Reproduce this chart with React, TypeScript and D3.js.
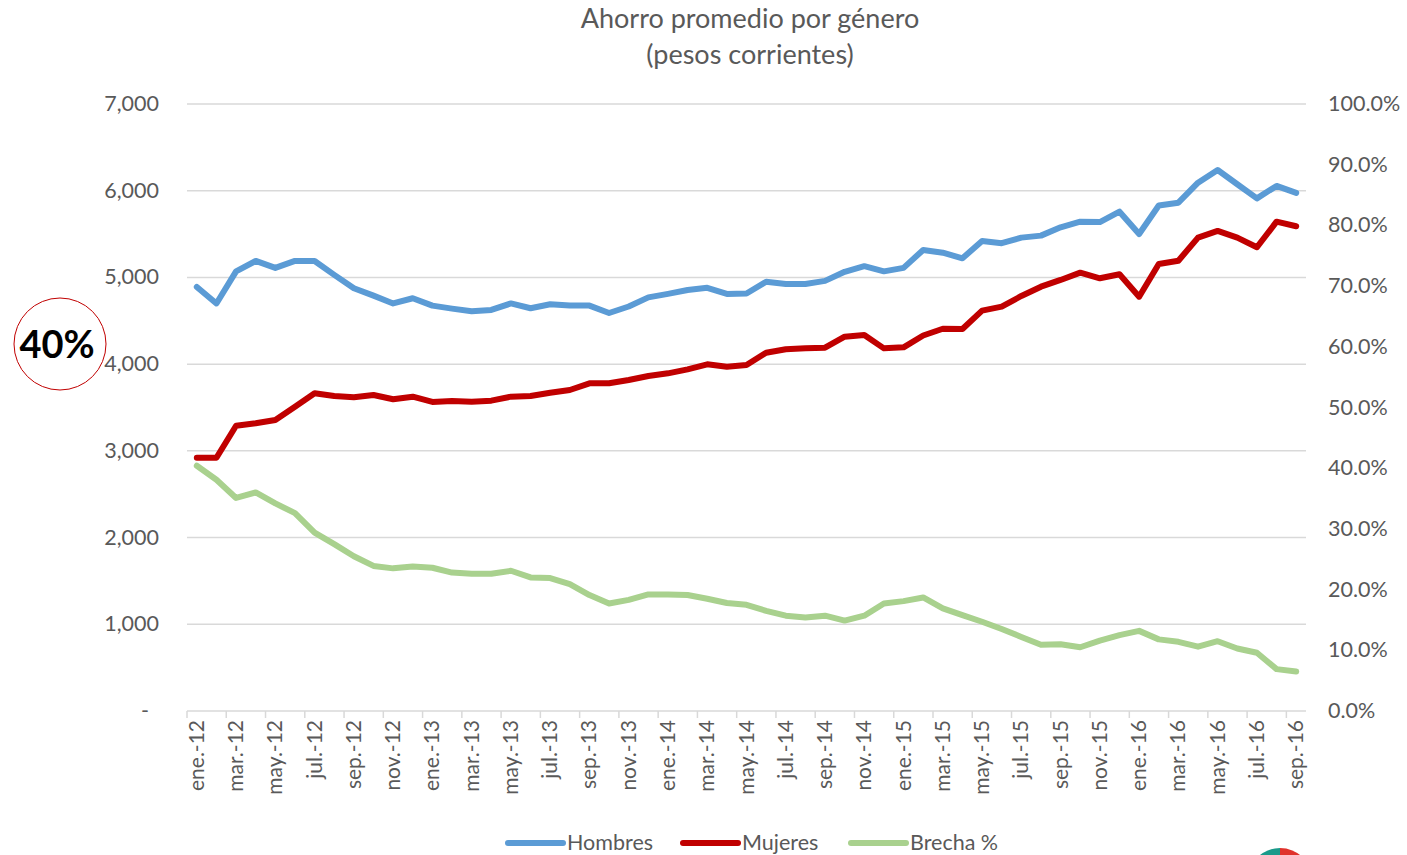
import { useEffect, useRef } from 'react';
import * as d3 from 'd3';

const monthNames = ['ene.', 'feb.', 'mar.', 'abr.', 'may.', 'jun.', 'jul.', 'ago.', 'sep.', 'oct.', 'nov.', 'dic.'];
const years = ['12', '13', '14', '15', '16'];
const months: string[] = [];
years.forEach(y => monthNames.forEach(m => months.push(`${m}-${y}`)));
const categories = months.slice(0, 57); // ene.-12 .. sep.-16

const hombres = [
  4890, 4700, 5070, 5190, 5110, 5190, 5190, 5030, 4875, 4790,
  4700, 4760, 4675, 4640, 4610, 4625, 4700, 4645, 4690, 4675,
  4675, 4590, 4665, 4770, 4810, 4855, 4880, 4810, 4815, 4950,
  4925, 4925, 4960, 5065, 5130, 5070, 5110, 5317, 5285, 5221,
  5420, 5395, 5459, 5482, 5578, 5643, 5638, 5758, 5500, 5830,
  5862, 6093, 6239, 6074, 5912, 6055, 5975,
];

const mujeres = [
  2921, 2921, 3290, 3318, 3356, 3509, 3664, 3633, 3618, 3644,
  3595, 3625, 3564, 3575, 3567, 3579, 3625, 3633, 3671, 3702,
  3779, 3779, 3817, 3863, 3894, 3940, 3998, 3971, 3990, 4132,
  4171, 4182, 4190, 4317, 4336, 4182, 4194, 4330, 4408, 4405,
  4617, 4663, 4786, 4893, 4971, 5055, 4990, 5036, 4778, 5155,
  5193, 5459, 5536, 5459, 5348, 5643, 5590,
];

const brecha = [
  40.4, 38.1, 35.1, 36.0, 34.2, 32.6, 29.4, 27.5, 25.5, 23.9,
  23.5, 23.8, 23.6, 22.8, 22.6, 22.6, 23.1, 22.0, 21.9, 20.9,
  19.1, 17.7, 18.3, 19.2, 19.2, 19.1, 18.5, 17.8, 17.5, 16.5,
  15.7, 15.4, 15.7, 14.9, 15.7, 17.7, 18.1, 18.7, 16.9, 15.8,
  14.7, 13.5, 12.2, 10.9, 11.0, 10.5, 11.6, 12.5, 13.2, 11.8,
  11.4, 10.6, 11.5, 10.3, 9.6, 6.9, 6.5,
];

const leftTicks = [0, 1000, 2000, 3000, 4000, 5000, 6000, 7000];
const rightTicks = [0, 10, 20, 30, 40, 50, 60, 70, 80, 90, 100];

const seriesNames = ['Hombres', 'Mujeres', 'Brecha %'];
const seriesColors = ['#5b9bd5', '#c00000', '#a9d18e'];

const FONT = 'Lato, "Open Sans", sans-serif';

export default function App() {
  const ref = useRef<SVGSVGElement | null>(null);

  useEffect(() => {
    const svg = d3.select(ref.current);
    svg.selectAll('*').remove();

    const W = 1407, H = 855;
    const left = 187, right = 1306, top = 104, bottom = 711;

    const x = d3.scaleBand().domain(categories).range([left, right]).padding(0);
    const yL = d3.scaleLinear().domain([0, 7000]).range([bottom, top]);
    const yR = d3.scaleLinear().domain([0, 100]).range([bottom, top]);

    svg.attr('width', W).attr('height', H);
    svg.append('rect').attr('width', W).attr('height', H).attr('fill', '#fff');

    // title
    const title = svg.append('text')
      .attr('x', 750).attr('text-anchor', 'middle')
      .attr('font-family', FONT).attr('font-size', 27).attr('fill', '#595959');
    title.append('tspan').attr('x', 750).attr('y', 28).text('Ahorro promedio por género');
    title.append('tspan').attr('x', 750).attr('y', 64).text('(pesos corrientes)');

    // gridlines
    svg.append('g')
      .selectAll('line')
      .data(leftTicks.slice(1))
      .join('line')
      .attr('x1', left).attr('x2', right)
      .attr('y1', d => yL(d)).attr('y2', d => yL(d))
      .attr('stroke', '#d9d9d9').attr('stroke-width', 1.5);

    // x axis line and ticks
    svg.append('line')
      .attr('x1', left).attr('x2', right).attr('y1', bottom).attr('y2', bottom)
      .attr('stroke', '#d9d9d9').attr('stroke-width', 1.5);
    const tickIdx = d3.range(0, categories.length, 2);
    svg.append('g')
      .selectAll('line')
      .data(tickIdx)
      .join('line')
      .attr('x1', i => x(categories[i])!).attr('x2', i => x(categories[i])!)
      .attr('y1', bottom).attr('y2', bottom + 7)
      .attr('stroke', '#d9d9d9').attr('stroke-width', 1.5);

    // x labels
    svg.append('g')
      .selectAll('text')
      .data(tickIdx)
      .join('text')
      .attr('transform', i => `translate(${x(categories[i])! + x.bandwidth() / 2 + 7},${bottom + 9}) rotate(-90)`)
      .attr('text-anchor', 'end')
      .attr('font-family', FONT).attr('font-size', 21).attr('fill', '#595959')
      .text(i => categories[i]);

    // left labels
    svg.append('g')
      .selectAll('text')
      .data(leftTicks)
      .join('text')
      .attr('x', d => (d === 0 ? 149 : 159))
      .attr('y', d => yL(d) + 7)
      .attr('text-anchor', 'end')
      .attr('font-family', FONT).attr('font-size', 21.5).attr('fill', '#595959')
      .text(d => (d === 0 ? '-' : d3.format(',')(d)));

    // right labels
    svg.append('g')
      .selectAll('text')
      .data(rightTicks)
      .join('text')
      .attr('x', 1328)
      .attr('y', d => yR(d) + 7)
      .attr('font-family', FONT).attr('font-size', 21.5).attr('fill', '#595959')
      .text(d => d.toFixed(1) + '%');

    const cx = (i: number) => x(categories[i])! + x.bandwidth() / 2;
    const lineL = d3.line<number>().x((d, i) => cx(i)).y(d => yL(d));
    const lineR = d3.line<number>().x((d, i) => cx(i)).y(d => yR(d));

    const paths = [lineL(hombres), lineL(mujeres), lineR(brecha)];
    paths.forEach((p, k) => {
      svg.append('path')
        .attr('d', p!)
        .attr('fill', 'none')
        .attr('stroke', seriesColors[k])
        .attr('stroke-width', 6)
        .attr('stroke-linejoin', 'round')
        .attr('stroke-linecap', 'round');
    });

    // legend
    const legendX = [508, 683, 851];
    const lg = svg.append('g');
    seriesNames.forEach((name, k) => {
      lg.append('line')
        .attr('x1', legendX[k]).attr('x2', legendX[k] + 55)
        .attr('y1', 843).attr('y2', 843)
        .attr('stroke', seriesColors[k]).attr('stroke-width', 6)
        .attr('stroke-linecap', 'round');
      lg.append('text')
        .attr('x', legendX[k] + 59).attr('y', 850)
        .attr('font-family', FONT).attr('font-size', 21.5).attr('fill', '#595959')
        .text(name);
    });

    // 40% callout
    svg.append('circle')
      .attr('cx', 60).attr('cy', 344).attr('r', 46)
      .attr('fill', 'none').attr('stroke', '#c00000').attr('stroke-width', 1);
    svg.append('text')
      .attr('x', 57).attr('y', 358)
      .attr('text-anchor', 'middle')
      .attr('font-family', FONT).attr('font-size', 38).attr('font-weight', 'bold')
      .attr('fill', '#000')
      .text('40%');

    // partial logo at bottom right
    const logo = svg.append('g').attr('transform', 'translate(1280,880)');
    logo.append('path').attr('d', d3.arc()({ innerRadius: 0, outerRadius: 32, startAngle: -Math.PI / 2, endAngle: 0 })!).attr('fill', '#1a9a8a');
    logo.append('path').attr('d', d3.arc()({ innerRadius: 0, outerRadius: 32, startAngle: 0, endAngle: Math.PI / 2 })!).attr('fill', '#e0322b');
  }, []);

  return (
    <div style={{ position: 'absolute', left: 0, top: 0 }}>
      <svg ref={ref}></svg>
    </div>
  );
}
